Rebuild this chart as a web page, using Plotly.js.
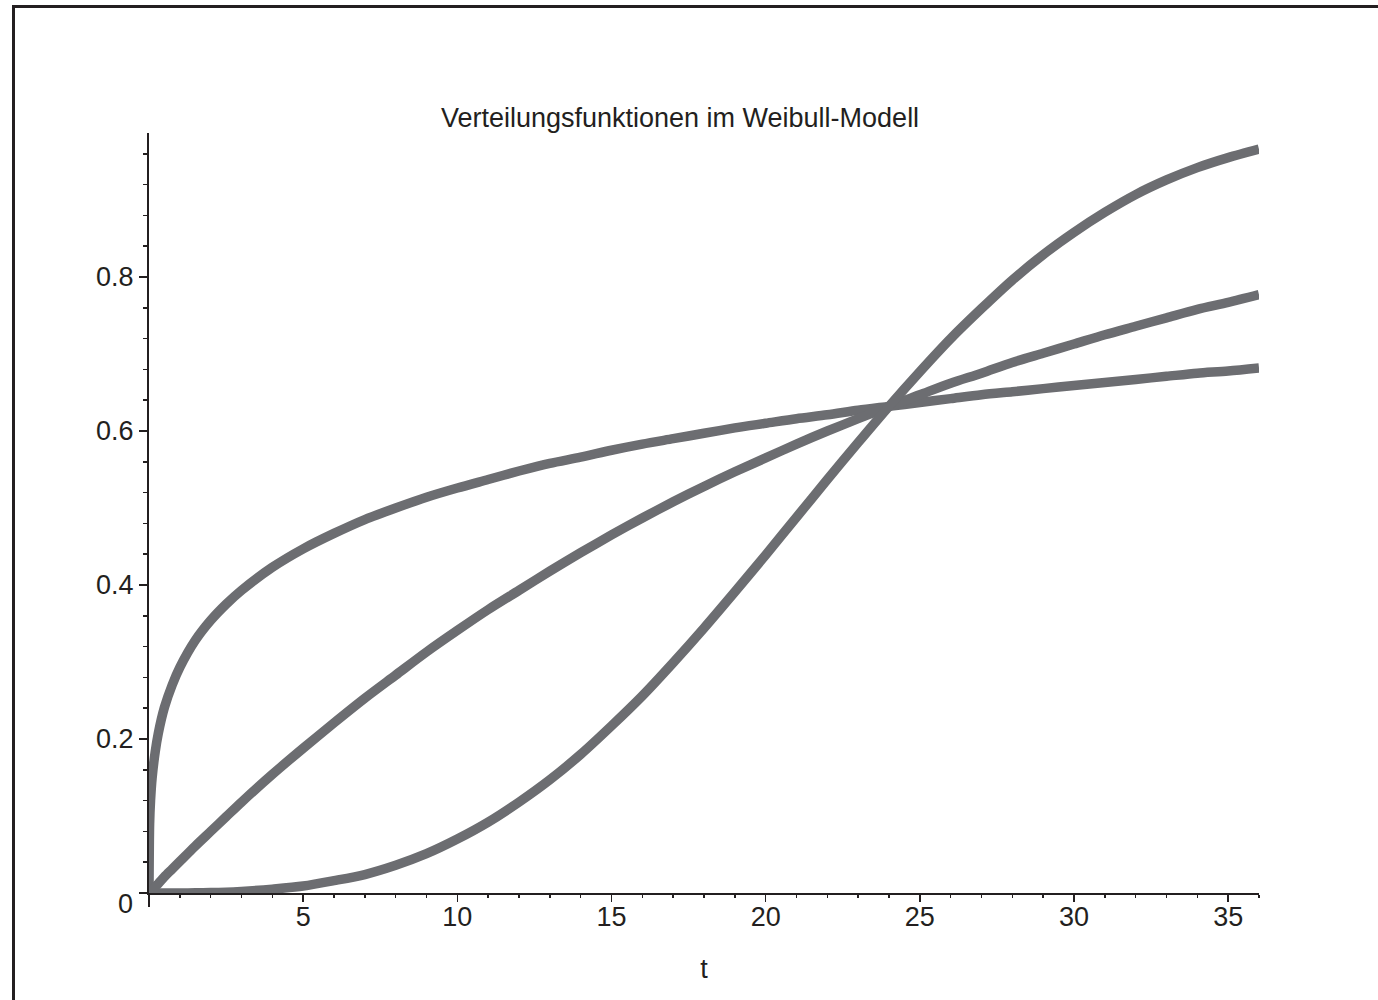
<!DOCTYPE html>
<html>
<head>
<meta charset="utf-8">
<script src="https://cdn.plot.ly/plotly-3.0.1.min.js"></script>
<style>
html,body{margin:0;padding:0;background:#fff;}
#chart{width:1378px;height:1000px;}
</style>
</head>
<body>
<div id="chart"></div>
<script>
// time points t
const tValues = [0, 0.02, 0.05, 0.1, 0.2, 0.3, 0.5, 0.75, 1, 1.5, 2, 2.5, 3, 4, 5, 6, 7, 8, 9, 10, 11, 12, 13, 14, 15, 16, 17, 18, 19, 20, 21, 22, 23, 24, 25, 26, 27, 28, 29, 30, 31, 32, 33, 34, 35, 36];

// curve rising steeply at start (flattest at end)
const curveSteep = [0, 0.090, 0.120, 0.149, 0.183, 0.207, 0.241, 0.270, 0.293, 0.328, 0.354, 0.375, 0.393, 0.423, 0.447, 0.467, 0.485, 0.500, 0.514, 0.526, 0.537, 0.548, 0.558, 0.566, 0.575, 0.583, 0.590, 0.597, 0.604, 0.610, 0.616, 0.621, 0.627, 0.632, 0.637, 0.642, 0.647, 0.651, 0.655, 0.659, 0.663, 0.667, 0.671, 0.675, 0.678, 0.682];

// nearly linear-start curve
const curveMiddle = [0, 0.001, 0.002, 0.004, 0.008, 0.012, 0.021, 0.031, 0.041, 0.061, 0.080, 0.099, 0.118, 0.154, 0.188, 0.221, 0.253, 0.283, 0.313, 0.341, 0.368, 0.393, 0.418, 0.442, 0.465, 0.487, 0.508, 0.528, 0.547, 0.565, 0.583, 0.600, 0.616, 0.632, 0.647, 0.662, 0.675, 0.689, 0.701, 0.713, 0.725, 0.736, 0.747, 0.758, 0.767, 0.777];

// S-shaped curve
const curveS = [0, 0, 0, 0, 0, 0, 0, 0, 0.0001, 0.0002, 0.0006, 0.001, 0.002, 0.005, 0.009, 0.016, 0.024, 0.036, 0.051, 0.070, 0.092, 0.118, 0.147, 0.180, 0.217, 0.256, 0.299, 0.344, 0.391, 0.439, 0.488, 0.537, 0.585, 0.632, 0.677, 0.720, 0.759, 0.796, 0.829, 0.858, 0.884, 0.907, 0.926, 0.942, 0.955, 0.966];

const xTickVals = [5, 10, 15, 20, 25, 30, 35];
const xTickText = ["5", "10", "15", "20", "25", "30", "35"];
const yTickVals = [0, 0.2, 0.4, 0.6, 0.8];
const yTickText = ["", "0.2", "0.4", "0.6", "0.8"];

const titleText = "Verteilungsfunktionen im Weibull-Modell";
const xTitle = "t";

const lineColor = "#6c6d71";
const axisColor = "#231f20";
const fontFam = "Liberation Sans, Arial, Helvetica, sans-serif";
const fs = 27;

function trace(y) {
  return {
    x: tValues, y: y, type: "scatter", mode: "lines",
    line: {color: lineColor, width: 9.5, shape: "spline", smoothing: 0.8},
    cliponaxis: false, hoverinfo: "skip", showlegend: false
  };
}

const L = 149, R = 1259, T = 133, B = 893;
const pw = R - L, ph = B - T;

const layout = {
  width: 1378, height: 1000,
  margin: {l: L, r: 1378 - R, t: T, b: 1000 - B, pad: 0},
  paper_bgcolor: "#ffffff", plot_bgcolor: "#ffffff",
  font: {family: fontFam, color: axisColor, size: fs},
  showlegend: false,
  title: {text: titleText, font: {family: fontFam, size: 27, color: axisColor},
          x: (680 - L) / pw, xref: "paper", xanchor: "center",
          y: 1 - 118 / 1000, yref: "container", yanchor: "middle"},
  xaxis: {
    range: [0, 36], showgrid: false, zeroline: false,
    showline: true, linecolor: axisColor, linewidth: 2,
    tickmode: "array", tickvals: xTickVals, ticktext: xTickText,
    ticks: "outside", ticklen: 7, tickwidth: 1.5, tickcolor: axisColor,
    ticklabelstandoff: -8,
    tickfont: {size: fs, color: axisColor, family: fontFam},
    minor: {dtick: 1, tick0: 0, ticks: "outside", ticklen: 3, tickwidth: 1.5, tickcolor: axisColor, showgrid: false},
    title: {text: xTitle, font: {size: fs, color: axisColor, family: fontFam}, standoff: 28},
    fixedrange: true
  },
  yaxis: {
    range: [0, 0.987], showgrid: false, zeroline: false,
    showline: true, linecolor: axisColor, linewidth: 2,
    tickmode: "array", tickvals: yTickVals, ticktext: yTickText,
    ticks: "outside", ticklen: 8, tickwidth: 1.5, tickcolor: axisColor,
    tickfont: {size: fs, color: axisColor, family: fontFam},
    minor: {dtick: 0.04, tick0: 0, ticks: "outside", ticklen: 4, tickwidth: 1.5, tickcolor: axisColor, showgrid: false},
    fixedrange: true
  },
  annotations: [
    {text: "0", xref: "paper", yref: "y", x: 0, y: 0, xanchor: "right", yanchor: "middle",
     xshift: -14, yshift: -11, showarrow: false, font: {size: fs, color: axisColor, family: fontFam}}
  ],
  shapes: [
    // y-axis extension below the x-axis
    {type: "line", xref: "paper", yref: "paper", x0: 0, x1: 0, y0: 0, y1: -14 / ph,
     line: {color: axisColor, width: 2}},
    // outer frame (top and left visible)
    {type: "rect", xref: "paper", yref: "paper",
     x0: (13.5 - L) / pw, x1: (1400 - L) / pw, y0: (B - 1020) / ph, y1: (B - 6.5) / ph,
     line: {color: axisColor, width: 3}, layer: "below"}
  ]
};

Plotly.newPlot("chart", [trace(curveSteep), trace(curveMiddle), trace(curveS)], layout,
  {displayModeBar: false, staticPlot: true});
</script>
</body>
</html>
